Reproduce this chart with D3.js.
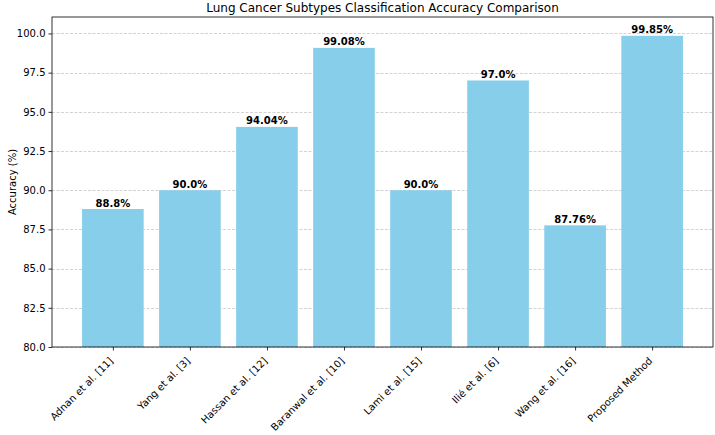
<!DOCTYPE html>
<html>
<head>
<meta charset="utf-8">
<script src="https://cdn.jsdelivr.net/npm/d3@7"></script>
<style>
  body { margin: 0; background: #fff; }
  text { font-family: "DejaVu Sans", sans-serif; fill: #000; }
</style>
</head>
<body>
<div id="chart"></div>
<script>
// chart data
var methods = ["Adnan et al. [11]", "Yang et al. [3]", "Hassan et al. [12]", "Baranwal et al. [10]",
  "Lami et al. [15]", "Ilié et al. [6]", "Wang et al. [16]", "Proposed Method"];
var accuracy = [88.8, 90.0, 94.04, 99.08, 90.0, 97.0, 87.76, 99.85];
var valueLabels = ["88.8%", "90.0%", "94.04%", "99.08%", "90.0%", "97.0%", "87.76%", "99.85%"];
var yTicks = [80, 82.5, 85, 87.5, 90, 92.5, 95, 97.5, 100];

var W = 715, H = 435;
var plotL = 52, plotR = 713, plotT = 17, plotB = 347;

var svg = d3.select("#chart").append("svg")
  .attr("width", W)
  .attr("height", H);

// scales (bar centres at 0..7, width 0.8, like matplotlib)
var x = d3.scaleLinear()
  .domain([-0.79, methods.length - 1 + 0.79])
  .range([plotL, plotR]);

var y = d3.scaleLinear()
  .domain([80, 101.05])
  .range([plotB, plotT]);

var barW = x(0.8) - x(0);

// grid lines behind bars
svg.selectAll(".grid")
  .data(yTicks)
  .enter()
  .append("line")
  .attr("class", "grid")
  .attr("x1", plotL)
  .attr("x2", plotR)
  .attr("y1", function(d) { return Math.round(y(d)) + 0.5; })
  .attr("y2", function(d) { return Math.round(y(d)) + 0.5; })
  .attr("stroke", "#b0b0b0")
  .attr("stroke-opacity", 0.7)
  .attr("stroke-width", 0.8)
  .attr("stroke-dasharray", "3,1.5");

// bars
svg.selectAll(".bar")
  .data(accuracy)
  .enter()
  .append("rect")
  .attr("class", "bar")
  .attr("x", function(d, i) { return x(i) - barW / 2; })
  .attr("y", function(d) { return y(d); })
  .attr("width", barW)
  .attr("height", function(d) { return y(80) - y(d); })
  .attr("fill", "#87ceeb");

// value labels
svg.selectAll(".val")
  .data(accuracy)
  .enter()
  .append("text")
  .attr("class", "val")
  .attr("x", function(d, i) { return x(i); })
  .attr("y", function(d) { return y(d) - 2.5; })
  .attr("text-anchor", "middle")
  .attr("font-size", "10px")
  .attr("font-weight", "bold")
  .text(function(d, i) { return valueLabels[i]; });

// y axis
var yAxisGroup = svg.append("g")
  .attr("transform", "translate(" + plotL + ",0)")
  .call(d3.axisLeft(y).tickValues(yTicks).tickSize(3.5).tickPadding(3)
    .tickFormat(d3.format(".1f")));
yAxisGroup.select(".domain").remove();
yAxisGroup.selectAll("text").attr("font-size", "10px").attr("font-family", "DejaVu Sans").attr("fill", "#000");
yAxisGroup.selectAll("line").attr("stroke", "#000").attr("stroke-width", 0.8);

// x axis
var xAxisGroup = svg.append("g")
  .attr("transform", "translate(0," + plotB + ")")
  .call(d3.axisBottom(x).tickValues(d3.range(methods.length)).tickSize(3.5)
    .tickFormat(function(i) { return methods[i]; }));
xAxisGroup.select(".domain").remove();
xAxisGroup.selectAll("line").attr("stroke", "#000").attr("stroke-width", 0.8);
xAxisGroup.selectAll("text")
  .attr("font-size", "10px")
  .attr("font-family", "DejaVu Sans")
  .attr("fill", "#000")
  .attr("text-anchor", "end")
  .attr("x", 0)
  .attr("y", 0)
  .attr("dy", "0.35em")
  .attr("transform", "translate(-2,12) rotate(-45)");

// frame
svg.append("rect")
  .attr("x", plotL)
  .attr("y", plotT)
  .attr("width", plotR - plotL)
  .attr("height", plotB - plotT)
  .attr("fill", "none")
  .attr("stroke", "#000")
  .attr("stroke-width", 0.8);

// title and y label
svg.append("text")
  .attr("x", (plotL + plotR) / 2)
  .attr("y", 12)
  .attr("text-anchor", "middle")
  .attr("font-size", "12px")
  .text("Lung Cancer Subtypes Classification Accuracy Comparison");

svg.append("text")
  .attr("transform", "translate(12," + ((plotT + plotB) / 2) + ") rotate(-90)")
  .attr("text-anchor", "middle")
  .attr("dy", "0.35em")
  .attr("font-size", "10px")
  .text("Accuracy (%)");
</script>
</body>
</html>
